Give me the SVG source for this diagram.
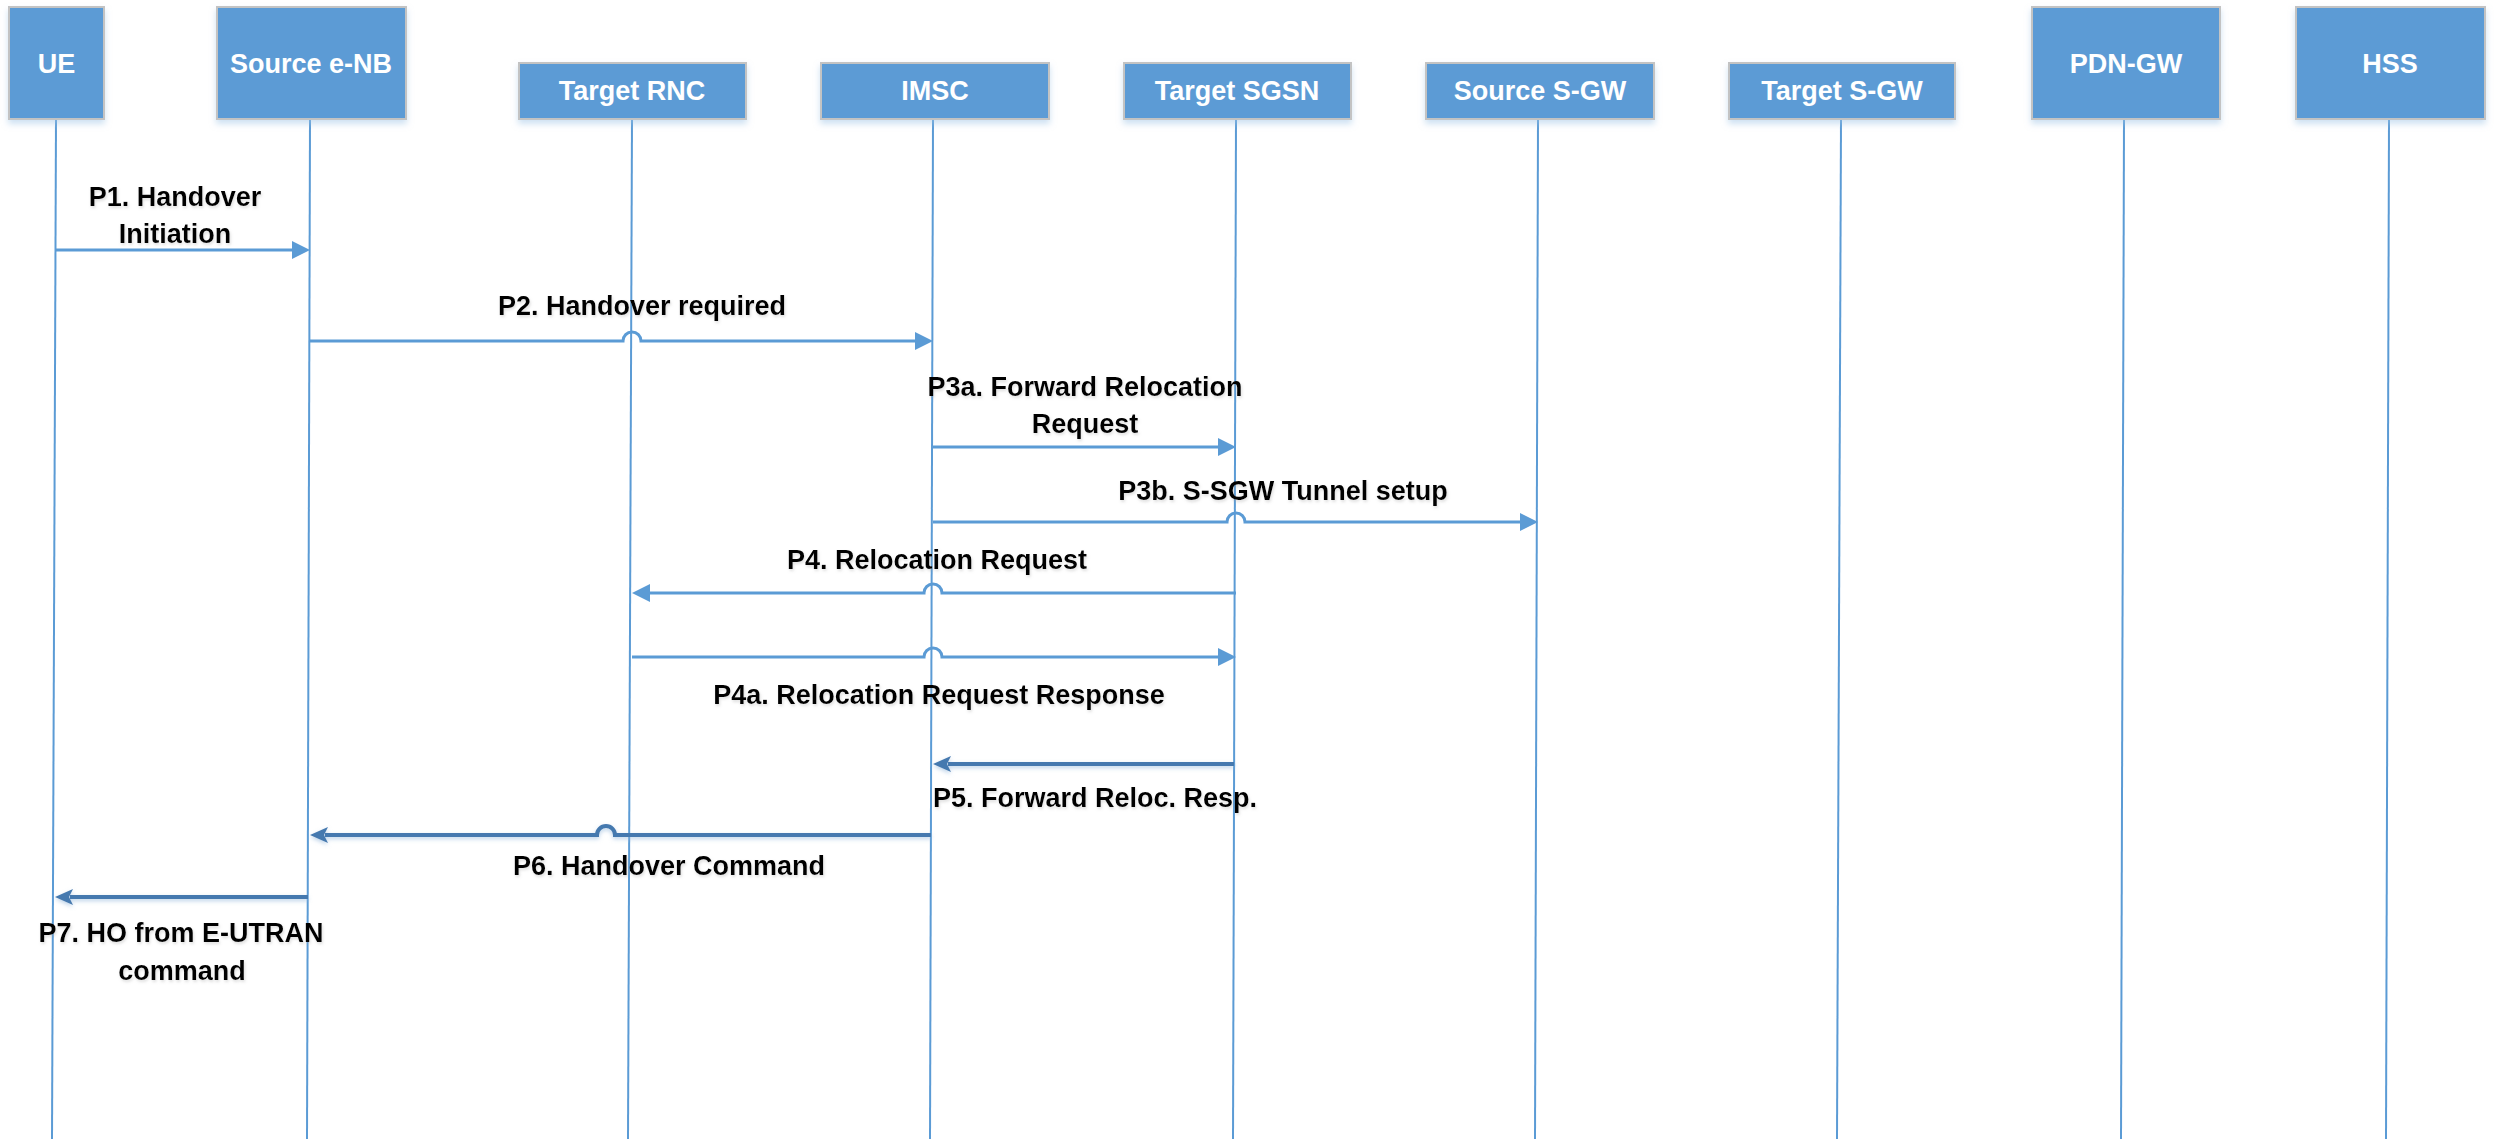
<svg xmlns="http://www.w3.org/2000/svg" width="2496" height="1139" viewBox="0 0 2496 1139">
  <style>
    .box { fill: #5B9BD5; stroke: #C3C3C3; stroke-width: 2; filter: url(#bshadow); }
    .nlabel { font-family: "Liberation Sans", Arial, sans-serif; font-weight: bold; font-size: 27px; fill: #FFFFFF; text-anchor: middle; }
    .life { stroke: #5B9BD5; stroke-width: 2; fill: none; }
    .msg { stroke: #5B9BD5; stroke-width: 3; fill: none; marker-end: url(#ah); }
    .msgd { stroke: #4579AF; stroke-width: 4; fill: none; marker-end: url(#ahd); filter: url(#lshadow); }
    .mlabel { font-family: "Liberation Sans", Arial, sans-serif; font-weight: bold; font-size: 27px; fill: #000000; text-anchor: middle; filter: url(#tshadow); }
  </style>
  <defs>
    <marker id="ah" viewBox="0 0 18 18" refX="2" refY="9" markerWidth="18" markerHeight="18" markerUnits="userSpaceOnUse" orient="auto">
      <path d="M0,0 L18,9 L0,18 z" fill="#5B9BD5"/>
    </marker>
    <marker id="ahd" viewBox="0 0 18 18" refX="3" refY="9" markerWidth="18" markerHeight="18" markerUnits="userSpaceOnUse" orient="auto">
      <path d="M0,1 L18,9 L0,17 L4,9 z" fill="#4579AF"/>
    </marker>
    <filter id="bshadow" x="-10%" y="-10%" width="120%" height="140%">
      <feDropShadow dx="0" dy="4" stdDeviation="3" flood-color="#9DC3E6" flood-opacity="0.5"/>
    </filter>
    <filter id="lshadow" filterUnits="userSpaceOnUse" x="0" y="0" width="2496" height="1139">
      <feDropShadow dx="0" dy="2" stdDeviation="2" flood-color="#8FB4DA" flood-opacity="0.6"/>
    </filter>
    <filter id="tshadow" x="-5%" y="-30%" width="110%" height="160%">
      <feDropShadow dx="1" dy="2" stdDeviation="1.5" flood-color="#A0A0A0" flood-opacity="0.35"/>
    </filter>
  </defs>
  <rect x="0" y="0" width="2496" height="1139" fill="#FFFFFF"/>

  <g id="lifelines">
    <line class="life" x1="56" y1="119" x2="52" y2="1139"/>
    <line class="life" x1="310" y1="119" x2="307" y2="1139"/>
    <line class="life" x1="632" y1="119" x2="628" y2="1139"/>
    <line class="life" x1="933" y1="119" x2="930" y2="1139"/>
    <line class="life" x1="1236" y1="119" x2="1233" y2="1139"/>
    <line class="life" x1="1538" y1="119" x2="1535" y2="1139"/>
    <line class="life" x1="1841" y1="119" x2="1837" y2="1139"/>
    <line class="life" x1="2124" y1="119" x2="2121" y2="1139"/>
    <line class="life" x1="2389" y1="119" x2="2386" y2="1139"/>
  </g>

  <g id="node-ue">
    <rect class="box" x="9" y="7" width="95" height="112"/>
    <text class="nlabel" x="56.5" y="73">UE</text>
  </g>
  <g id="node-source-enb">
    <rect class="box" x="217" y="7" width="189" height="112"/>
    <text class="nlabel" x="311" y="73">Source e-NB</text>
  </g>
  <g id="node-target-rnc">
    <rect class="box" x="519" y="63" width="227" height="56"/>
    <text class="nlabel" x="632" y="100">Target RNC</text>
  </g>
  <g id="node-imsc">
    <rect class="box" x="821" y="63" width="228" height="56"/>
    <text class="nlabel" x="935" y="100">IMSC</text>
  </g>
  <g id="node-target-sgsn">
    <rect class="box" x="1124" y="63" width="227" height="56"/>
    <text class="nlabel" x="1237" y="100">Target SGSN</text>
  </g>
  <g id="node-source-sgw">
    <rect class="box" x="1426" y="63" width="228" height="56"/>
    <text class="nlabel" x="1540" y="100">Source S-GW</text>
  </g>
  <g id="node-target-sgw">
    <rect class="box" x="1729" y="63" width="226" height="56"/>
    <text class="nlabel" x="1842" y="100">Target S-GW</text>
  </g>
  <g id="node-pdn-gw">
    <rect class="box" x="2032" y="7" width="188" height="112"/>
    <text class="nlabel" x="2126" y="73">PDN-GW</text>
  </g>
  <g id="node-hss">
    <rect class="box" x="2296" y="7" width="189" height="112"/>
    <text class="nlabel" x="2390" y="73">HSS</text>
  </g>

  <g id="connectors">
    <path class="msg" d="M56,250 H294"/>
    <path class="msg" d="M310,341 H623 a9,9 0 0 1 18,0 H917"/>
    <path class="msg" d="M933,447 H1220"/>
    <path class="msg" d="M933,522 H1227 a9,9 0 0 1 18,0 H1522"/>
    <path class="msg" d="M1236,593 H942 a9,9 0 0 0 -18,0 H648"/>
    <path class="msg" d="M632,657 H924 a9,9 0 0 1 18,0 H1220"/>
    <path class="msgd" d="M1234,764 H948"/>
    <path class="msgd" d="M931,835 H615 a9,9 0 0 0 -18,0 H325"/>
    <path class="msgd" d="M308,897 H70"/>
  </g>

  <g id="labels">
    <text class="mlabel" x="175" y="206">P1. Handover</text>
    <text class="mlabel" x="175" y="243">Initiation</text>
    <text class="mlabel" x="642" y="315">P2. Handover required</text>
    <text class="mlabel" x="1085" y="396">P3a. Forward Relocation</text>
    <text class="mlabel" x="1085" y="433">Request</text>
    <text class="mlabel" x="1283" y="500">P3b. S-SGW Tunnel setup</text>
    <text class="mlabel" x="937" y="569">P4. Relocation Request</text>
    <text class="mlabel" x="939" y="704">P4a. Relocation Request Response</text>
    <text class="mlabel" x="1095" y="807">P5. Forward Reloc. Resp.</text>
    <text class="mlabel" x="669" y="875">P6. Handover Command</text>
    <text class="mlabel" x="181" y="942">P7. HO from E-UTRAN</text>
    <text class="mlabel" x="182" y="980">command</text>
  </g>
</svg>
